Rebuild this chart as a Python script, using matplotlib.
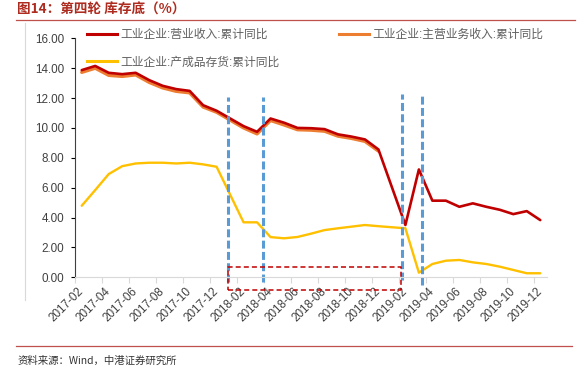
import pandas as pd
import matplotlib
matplotlib.use('Agg')
import matplotlib.pyplot as plt
from matplotlib.lines import Line2D

plt.rcParams['font.family'] = ['Liberation Sans', 'Noto Sans CJK SC', 'DejaVu Sans']

# months shown (Wind leaves out January, the Jan-Feb figure is reported in Feb)
months = ["2017-02", "2017-03", "2017-04", "2017-05", "2017-06", "2017-07", "2017-08",
          "2017-09", "2017-10", "2017-11", "2017-12",
          "2018-02", "2018-03", "2018-04", "2018-05", "2018-06", "2018-07", "2018-08",
          "2018-09", "2018-10", "2018-11", "2018-12",
          "2019-02", "2019-03", "2019-04", "2019-05", "2019-06", "2019-07", "2019-08",
          "2019-09", "2019-10", "2019-11", "2019-12"]

revenue = [13.87, 14.15, 13.69, 13.60, 13.69, 13.20, 12.82, 12.60, 12.48, 11.52, 11.15,
           10.12, 9.74, 10.63, 10.35, 10.00, 9.98, 9.92, 9.57, 9.42, 9.23, 8.56,
           3.50, 7.22, 5.13, 5.13, 4.72, 4.95, 4.72, 4.52, 4.23, 4.43, 3.83]

main_revenue = [13.72, 14.00, 13.52, 13.45, 13.55, 13.05, 12.68, 12.45, 12.35, 11.40, 11.05,
                10.00, 9.60, 10.50, 10.20, 9.88, 9.85, 9.78, 9.45, 9.30, 9.10, 8.45]

inventory = [4.79, 5.84, 6.91, 7.44, 7.62, 7.67, 7.67, 7.62, 7.67, 7.56, 7.40,
             3.68, 3.68, 2.69, 2.61, 2.70, 2.92, 3.16, 3.28, 3.39, 3.50, 3.42,
             3.28, 0.31, 0.89, 1.11, 1.16, 1.00, 0.89, 0.71, 0.49, 0.27, 0.27]

tick_labels = ["2017-02", "2017-04", "2017-06", "2017-08", "2017-10", "2017-12",
               "2018-02", "2018-04", "2018-06", "2018-08", "2018-10", "2018-12",
               "2019-02", "2019-04", "2019-06", "2019-08", "2019-10", "2019-12"]

labels = ["工业企业:营业收入:累计同比", "工业企业:主营业务收入:累计同比", "工业企业:产成品存货:累计同比"]

# hand drawn marks on the original chart (in month-index units)
blue_lines = [(10.85, 12.08, -0.3), (13.45, 12.04, -0.3), (23.77, 12.3, -0.2), (25.2, 12.24, -0.5)]
box = (10.86, 23.70, -0.82, 0.72)

start = pd.Period("2017-02", freq="M")
x_all = [(pd.Period(m, freq="M") - start).n for m in months]
x_main = x_all[:len(main_revenue)]

fig = plt.figure(figsize=(5.8, 3.73), dpi=100)
ax = fig.add_axes([0.1293, 0.2566, 0.8138, 0.6407])

ax.plot(x_main, main_revenue, color="#ED7D31", lw=2.4, solid_capstyle="round")
ax.plot(x_all, revenue, color="#C00000", lw=1.9, solid_capstyle="round")
ax.plot(x_all, inventory, color="#FFC000", lw=1.7, solid_capstyle="round")

for xb, top, bot in blue_lines:
    ax.plot([xb, xb], [bot, top], color="#5B9BD5", lw=2.2, ls=(0, (2.6, 1.1)), clip_on=False)

x0, x1, y0, y1 = box
ax.plot([x0, x1, x1, x0, x0], [y0, y0, y1, y1, y0], color="#C00000", lw=1.1,
        ls=(0, (3.3, 2.0)), clip_on=False)

ax.set_xlim(-0.5, 34.5)
ax.set_ylim(0, 16)
ax.set_yticks(range(0, 17, 2))
ax.set_yticklabels([f"{v:.2f}" for v in range(0, 17, 2)])

# ticks sit between months, labels on the month itself
ax.set_xticks([-0.5 + 2 * k for k in range(18)])
ax.set_xticklabels([])
ax.set_xticks([2 * k for k in range(18)], minor=True)
ax.set_xticklabels(tick_labels, minor=True, rotation=45, ha="right", va="center",
                   rotation_mode="anchor")
ax.tick_params(axis="x", which="major", length=4, color="#D9D9D9")
ax.tick_params(axis="x", which="minor", length=0, pad=9, labelsize=8.4, labelcolor="#404040")
ax.tick_params(axis="y", length=3, width=0.8, pad=5, labelsize=8.4, labelcolor="#404040")

for s in ["top", "right"]:
    ax.spines[s].set_visible(False)
ax.spines["left"].set_color("#404040")
ax.spines["bottom"].set_color("#D9D9D9")

handles = [Line2D([], [], color="#C00000", lw=2.2),
           Line2D([], [], color="#FFC000", lw=2.2),
           Line2D([], [], color="#ED7D31", lw=2.2)]
leg = fig.legend(handles, [labels[0], labels[2], labels[1]], ncol=2, loc="upper left",
                 bbox_to_anchor=(87 / 580, 1 - 29 / 373), frameon=False, borderpad=0,
                 borderaxespad=0, handlelength=2.55, handletextpad=0.3, columnspacing=5.0,
                 labelspacing=1.3,
                 prop={"family": ["Liberation Sans", "Noto Sans CJK SC"], "size": 8.5})
for t in leg.get_texts():
    t.set_color("#606060")

fig.text(17 / 580, 1 - 10 / 373, "图14：第四轮 库存底（%）", fontsize=9.8, fontweight="bold",
         color="#AE2B1F", va="center", family=["Noto Sans CJK SC", "DejaVu Sans"])
fig.add_artist(Line2D([16 / 580, 575 / 580], [1 - 20 / 373, 1 - 20 / 373], color="#C0504D", lw=0.9))
fig.add_artist(Line2D([25 / 580, 25 / 580], [1 - 23 / 373, 1 - 300 / 373], color="#D9D9D9", lw=0.8))
fig.add_artist(Line2D([16 / 580, 572 / 580], [1 - 346 / 373, 1 - 346 / 373], color="#C0504D", lw=0.9))
fig.text(18 / 580, 1 - 361 / 373, "资料来源：Wind，中港证券研究所", fontsize=7.5, style="italic",
         color="#333333", va="center", family=["Noto Sans CJK SC", "DejaVu Sans"])

plt.savefig("out.png", dpi=100)
plt.close()
